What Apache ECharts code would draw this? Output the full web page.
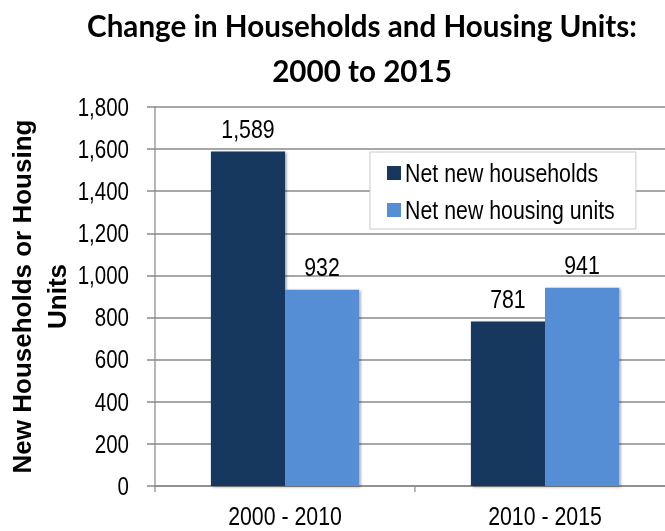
<!DOCTYPE html>
<html>
<head>
<meta charset="utf-8">
<title>Change in Households and Housing Units: 2000 to 2015</title>
<script src="https://cdn.jsdelivr.net/npm/echarts@6/dist/echarts.min.js"></script>
<style>
  html, body { margin: 0; padding: 0; background: #ffffff; overflow: hidden; }
  #frame { width: 665px; height: 531px; overflow: hidden; position: relative; }
  /* The chart is laid out on a wider canvas and squeezed horizontally,
     which gives the condensed (Arial Narrow style) lettering. */
  #chart { position: absolute; left: 0; top: 0; height: 531px; transform-origin: 0 0; }
</style>
</head>
<body>
<div id="frame"><div id="chart"></div></div>
<script>
// Periods on the category axis
const categories = ['2000 - 2010', '2010 - 2015'];
// Net change over each period
const netNewHouseholds = [1589, 781];
const netNewHousingUnits = [932, 941];
// Value axis range
const yMin = 0;
const yMax = 1800;
const yStep = 200;

// Horizontal squeeze factor (narrow type width relative to regular)
const K = 0.82;
const W = 665, H = 531;
const sx = v => v / K;           // screen px -> chart-space px (horizontal)

const el = document.getElementById('chart');
el.style.width = sx(W) + 'px';
el.style.transform = 'scaleX(' + K + ')';

const sans = "'Liberation Sans', Arial, sans-serif";
const fmt = v => Number(v).toLocaleString('en-US');
const axisGray = '#8a8a8a';

const barShadow = {
  shadowColor: 'rgba(0,0,0,0.35)',
  shadowBlur: 3,
  shadowOffsetX: 2,
  shadowOffsetY: 1
};

const valueLabel = {
  show: true,
  position: 'top',
  distance: 10,
  fontFamily: sans,
  fontSize: 26,
  color: '#000000',
  formatter: p => fmt(p.value)
};

const chart = echarts.init(el, null, { renderer: 'svg', width: sx(W), height: H });

chart.setOption({
  animation: false,
  backgroundColor: '#ffffff',
  graphic: [
    {
      // Chart title (restored to regular width)
      type: 'text',
      x: sx(362),
      y: 3,
      scaleX: 1 / K,
      style: {
        text: 'Change in Households and Housing Units:\n2000 to 2015',
        fontFamily: "Lato, 'Open Sans', sans-serif",
        fontWeight: 'bold',
        fontSize: 29.6,
        lineHeight: 45,
        fill: '#000000',
        align: 'center',
        verticalAlign: 'top'
      }
    },
    {
      // Value axis title, rotated to read upward
      type: 'text',
      x: sx(39.5),
      y: 296.5,
      rotation: Math.PI / 2,
      scaleX: 1,
      scaleY: 1 / K,
      style: {
        text: 'New Households or Housing\nUnits',
        fontFamily: sans,
        fontWeight: 'bold',
        fontSize: 26,
        lineHeight: 34,
        fill: '#000000',
        align: 'center',
        verticalAlign: 'middle'
      }
    }
  ],
  legend: {
    orient: 'vertical',
    left: sx(370),
    top: 152,
    padding: [8, sx(21), 6, sx(17)],
    itemGap: 11,
    itemWidth: sx(14),
    itemHeight: 14,
    icon: 'rect',
    borderColor: '#c4c4c4',
    borderWidth: 1,
    backgroundColor: '#ffffff',
    textStyle: {
      fontFamily: sans,
      fontSize: 26,
      lineHeight: 26,
      color: '#000000'
    },
    data: ['Net new households', 'Net new housing units']
  },
  grid: {
    left: sx(155),
    right: sx(W) - sx(675),
    top: 107,
    bottom: 45,
    containLabel: false,
    outerBoundsMode: 'none'
  },
  xAxis: {
    type: 'category',
    data: categories,
    axisLine: { lineStyle: { color: axisGray, width: 1.5 } },
    axisTick: { show: true, alignWithLabel: false, length: 6, lineStyle: { color: axisGray, width: 1.5 } },
    axisLabel: {
      margin: 17,
      fontFamily: sans,
      fontSize: 26,
      color: '#000000'
    },
    splitLine: { show: false }
  },
  yAxis: {
    type: 'value',
    min: yMin,
    max: yMax,
    interval: yStep,
    axisLine: { show: true, lineStyle: { color: axisGray, width: 1.5 } },
    axisTick: { show: true, inside: false, length: sx(8), lineStyle: { color: axisGray, width: 1.5 } },
    axisLabel: {
      margin: sx(26),
      fontFamily: sans,
      fontSize: 25,
      color: '#000000',
      formatter: fmt
    },
    splitLine: { show: true, lineStyle: { color: axisGray, width: 1.5 } }
  },
  series: [
    {
      name: 'Net new households',
      type: 'bar',
      data: netNewHouseholds,
      barGap: '0%',
      barCategoryGap: '43%',
      itemStyle: Object.assign({ color: '#17375e' }, barShadow),
      label: valueLabel
    },
    {
      name: 'Net new housing units',
      type: 'bar',
      data: netNewHousingUnits,
      barGap: '0%',
      barCategoryGap: '43%',
      itemStyle: Object.assign({ color: '#558ed5' }, barShadow),
      label: valueLabel
    }
  ]
});
</script>
</body>
</html>
